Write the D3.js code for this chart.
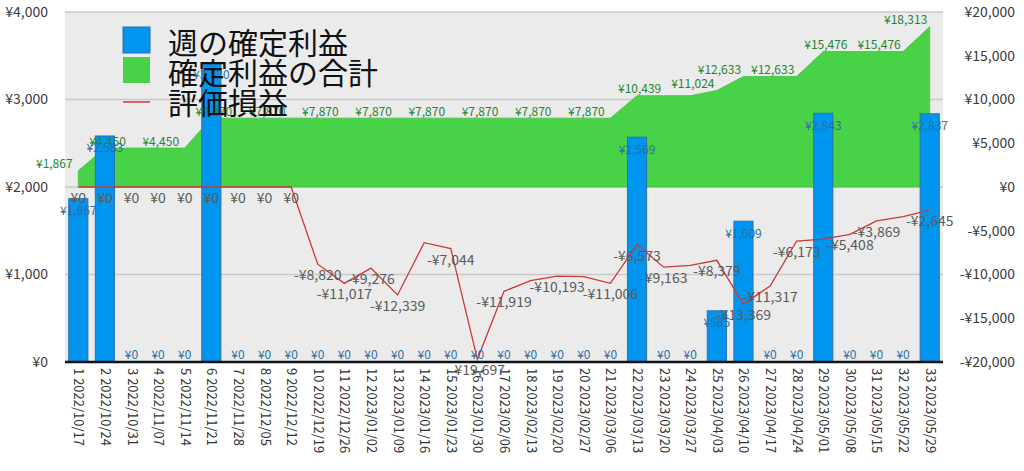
<!DOCTYPE html>
<html><head><meta charset="utf-8">
<script src="https://cdn.jsdelivr.net/npm/d3@7"></script>
<style>
html,body{margin:0;padding:0;background:#fff;}
svg{display:block;font-family:"Noto Sans CJK JP","Noto Sans",sans-serif;}
</style></head>
<body>
<svg id="chart" width="1024" height="471"></svg>
<script>
// ---- data ----
const categories = ["1 2022/10/17","2 2022/10/24","3 2022/10/31","4 2022/11/07","5 2022/11/14","6 2022/11/21","7 2022/11/28","8 2022/12/05","9 2022/12/12","10 2022/12/19","11 2022/12/26","12 2023/01/02","13 2023/01/09","14 2023/01/16","15 2023/01/23","16 2023/01/30","17 2023/02/06","18 2023/02/13","19 2023/02/20","20 2023/02/27","21 2023/03/06","22 2023/03/13","23 2023/03/20","24 2023/03/27","25 2023/04/03","26 2023/04/10","27 2023/04/17","28 2023/04/24","29 2023/05/01","30 2023/05/08","31 2023/05/15","32 2023/05/22","33 2023/05/29"];
const weeklyProfit = [1867,2583,0,0,0,3420,0,0,0,0,0,0,0,0,0,0,0,0,0,0,0,2569,0,0,585,1609,0,0,2843,0,0,0,2837];
const cumulativeProfit = [1867,4450,4450,4450,4450,7870,7870,7870,7870,7870,7870,7870,7870,7870,7870,7870,7870,7870,7870,7870,7870,10439,10439,10439,11024,12633,12633,12633,15476,15476,15476,15476,18313];
const unrealized = [0,0,0,0,0,0,0,0,0,-8820,-11017,-9276,-12339,-6370,-7044,-19697,-11919,-10700,-10193,-10250,-11006,-6573,-9163,-8950,-8379,-13369,-11317,-6173,-5950,-5408,-3869,-3390,-2645];
const cumLabelShown = [0,2,4,6,8,10,12,14,16,18,20,22,24,25,27,29,31,32];
const unrealizedLabelHidden = [13,17,19,23,28,31];
const leftTicks = [0,1000,2000,3000,4000];
const rightTicks = [-20000,-15000,-10000,-5000,0,5000,10000,15000,20000];
const seriesNames = ["週の確定利益","確定利益の合計","評価損益"];

// ---- layout ----
const svg = d3.select("#chart");
const L = 65, R = 943, T = 12, B = 362;
const x = d3.scaleBand().domain(categories).range([L, R]).paddingInner(0.28).paddingOuter(0.14);
const cx = d => x(d) + x.bandwidth()/2;
const yL = d3.scaleLinear().domain([0,4000]).range([B, T]);
const yR = d3.scaleLinear().domain([-20000,20000]).range([B, T]);
const yen = v => (v < 0 ? "-¥" : "¥") + d3.format(",")(Math.abs(v));

svg.append("rect").attr("x", L).attr("y", T).attr("width", R-L).attr("height", B-T).attr("fill", "#ebebeb");

// grid
svg.append("g").selectAll("line").data(leftTicks.filter(t => t > 0)).join("line")
  .attr("x1", L).attr("x2", R).attr("y1", d => yL(d)).attr("y2", d => yL(d))
  .attr("stroke", "#c9c9c9").attr("stroke-width", 1.5);

// left axis
const axL = svg.append("g").attr("transform", `translate(${L},0)`)
  .call(d3.axisLeft(yL).tickValues(leftTicks).tickFormat(yen).tickSize(0).tickPadding(17));
axL.select(".domain").remove();
axL.selectAll("text").attr("font-size", 14).attr("fill", "#3a3a3a").attr("font-family", "'Noto Sans CJK JP',sans-serif");

// right axis
const axR = svg.append("g").attr("transform", `translate(1015,0)`)
  .call(d3.axisLeft(yR).tickValues(rightTicks).tickFormat(yen).tickSize(0).tickPadding(0));
axR.select(".domain").remove();
axR.selectAll("text").attr("font-size", 14).attr("fill", "#3a3a3a").attr("font-family", "'Noto Sans CJK JP',sans-serif");

// area
const area = d3.area().x((d,i) => cx(categories[i])).y0(yR(0)).y1(d => yR(d));
svg.append("path").datum(cumulativeProfit).attr("d", area).attr("fill", "#48d248").attr("stroke", "#3fc23f").attr("stroke-width", 0.8);

// bars
svg.append("g").selectAll("rect").data(weeklyProfit).join("rect")
  .attr("x", (d,i) => x(categories[i])).attr("width", x.bandwidth())
  .attr("y", d => yL(d)).attr("height", d => yL(0) - yL(d))
  .attr("fill", "#0096f0").attr("stroke", "#2f6fae").attr("stroke-width", d => d > 0 ? 1 : 0);

// line
const line = d3.line().x((d,i) => cx(categories[i])).y(d => yR(d));
svg.append("path").datum(unrealized).attr("d", line).attr("fill", "none").attr("stroke", "#cc3838").attr("stroke-width", 1.3);

// x axis line
svg.append("line").attr("x1", L).attr("x2", R).attr("y1", B).attr("y2", B).attr("stroke", "#111").attr("stroke-width", 2.5);

// x labels
svg.append("g").selectAll("text").data(categories).join("text")
  .attr("transform", d => `translate(${cx(d)-4},368) rotate(90)`)
  .attr("font-size", 13).attr("fill", "#333").attr("text-anchor", "start")
  .text(d => d);

// cumulative labels
svg.append("g").selectAll("text").data(cumLabelShown).join("text")
  .attr("x", i => cx(categories[i]) - 24).attr("y", i => yR(cumulativeProfit[i]) - 8)
  .attr("dominant-baseline", "central").attr("text-anchor", "middle")
  .attr("font-size", 12).attr("fill", "#23862a")
  .text(i => yen(cumulativeProfit[i]));

// bar labels
svg.append("g").selectAll("text").data(weeklyProfit).join("text")
  .attr("x", (d,i) => cx(categories[i]))
  .attr("y", d => d === 0 ? yL(0) - 9 : yL(d) + 11)
  .attr("dominant-baseline", "central").attr("text-anchor", "middle")
  .attr("font-size", 12).attr("fill", "#2a6ea6")
  .text(d => yen(d));

// unrealized labels
svg.append("g").selectAll("text").data(unrealized.map((v,i) => i).filter(i => !unrealizedLabelHidden.includes(i))).join("text")
  .attr("x", i => cx(categories[i])).attr("y", i => yR(unrealized[i]) + 10)
  .attr("dominant-baseline", "central").attr("text-anchor", "middle")
  .attr("font-size", 14).attr("fill", "#5a5a5a")
  .text(i => yen(unrealized[i]));

// legend
const lg = svg.append("g");
lg.append("rect").attr("x", 123).attr("y", 27).attr("width", 27).attr("height", 26).attr("fill", "#0096f0").attr("stroke", "#2f6fae");
lg.append("rect").attr("x", 123).attr("y", 57).attr("width", 27).attr("height", 26).attr("fill", "#48d248");
lg.append("line").attr("x1", 123).attr("x2", 150).attr("y1", 102).attr("y2", 102).attr("stroke", "#cc3838").attr("stroke-width", 1.5);
lg.selectAll("text").data(seriesNames).join("text")
  .attr("x", 168).attr("y", (d,i) => 41 + i*30)
  .attr("dominant-baseline", "central").attr("font-size", 30).attr("fill", "#111")
  .text(d => d);
</script>
</body></html>
